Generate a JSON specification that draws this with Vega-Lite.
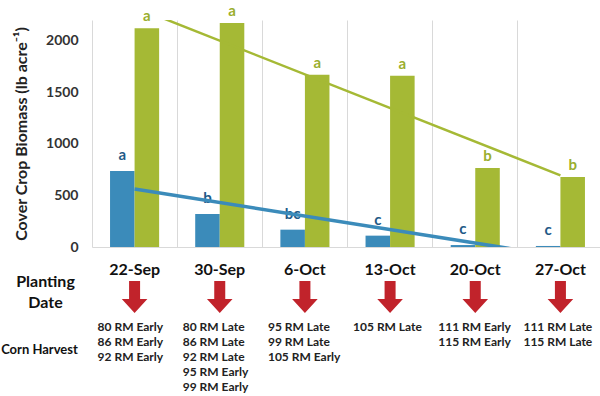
{
  "$schema": "https://vega.github.io/schema/vega-lite/v6.json",
  "background": "white",
  "padding": {"top": 3, "left": 0, "right": 0, "bottom": 0},
  "config": {"font": "Lato", "view": {"stroke": null}},
  "spacing": 8,
  "datasets": {
    "biomass": [
      {"date": "22-Sep", "series": "Series 1", "biomass": 737, "letter": "a"},
      {"date": "22-Sep", "series": "Series 2", "biomass": 2120, "letter": "a"},
      {"date": "30-Sep", "series": "Series 1", "biomass": 320, "letter": "b"},
      {"date": "30-Sep", "series": "Series 2", "biomass": 2171, "letter": "a"},
      {"date": "6-Oct", "series": "Series 1", "biomass": 168, "letter": "bc"},
      {"date": "6-Oct", "series": "Series 2", "biomass": 1670, "letter": "a"},
      {"date": "13-Oct", "series": "Series 1", "biomass": 110, "letter": "c"},
      {"date": "13-Oct", "series": "Series 2", "biomass": 1660, "letter": "a"},
      {"date": "20-Oct", "series": "Series 1", "biomass": 19, "letter": "c"},
      {"date": "20-Oct", "series": "Series 2", "biomass": 766, "letter": "b"},
      {"date": "27-Oct", "series": "Series 1", "biomass": 10, "letter": "c"},
      {"date": "27-Oct", "series": "Series 2", "biomass": 679, "letter": "b"}
    ],
    "trend": [
      {"date": "22-Sep", "series": "Series 1", "trend": 562},
      {"date": "27-Oct", "series": "Series 1", "trend": -93},
      {"date": "22-Sep", "series": "Series 2", "trend": 2326},
      {"date": "27-Oct", "series": "Series 2", "trend": 694}
    ],
    "schedule": [
      {"date": "22-Sep", "harvest": "80 RM Early\n86 RM  Early\n92 RM  Early"},
      {"date": "30-Sep", "harvest": "80 RM Late\n86 RM  Late\n92 RM  Late\n95 RM  Early\n99 RM  Early"},
      {"date": "6-Oct", "harvest": "95 RM Late\n99 RM  Late\n105 RM  Early"},
      {"date": "13-Oct", "harvest": "105 RM  Late"},
      {"date": "20-Oct", "harvest": "111 RM Early\n115 RM Early"},
      {"date": "27-Oct", "harvest": "111 RM Late\n115 RM Late"}
    ]
  },
  "vconcat": [
    {
      "width": 511,
      "height": 227,
      "layer": [
        {
          "data": {"name": "biomass"},
          "mark": {"type": "bar"},
          "encoding": {
            "x": {
              "field": "date", "type": "nominal",
              "scale": {"domain": ["22-Sep", "30-Sep", "6-Oct", "13-Oct", "20-Oct", "27-Oct"], "paddingInner": 0, "paddingOuter": 0},
              "axis": {"labels": false, "ticks": false, "title": null, "domainColor": "#d9d9d9", "grid": true, "gridColor": "#d9d9d9", "bandPosition": 0}
            },
            "xOffset": {"field": "series", "type": "nominal", "scale": {"paddingOuter": 0.735, "paddingInner": 0}},
            "y": {
              "field": "biomass", "type": "quantitative",
              "scale": {"domain": [0, 2200]},
              "axis": {
                "values": [0, 500, 1000, 1500, 2000], "format": "d", "grid": false, "domain": false, "ticks": false,
                "labelPadding": 14, "labelFontSize": 14, "labelFontWeight": "bold", "labelColor": "#333333",
                "title": "Cover Crop Biomass (lb acre⁻¹)", "titleFontSize": 16, "titleFontWeight": "bold",
                "titleColor": "#222222", "titlePadding": 16
              }
            },
            "color": {"field": "series", "type": "nominal", "scale": {"range": ["#3b8bba", "#a5b935"]}, "legend": null}
          }
        },
        {
          "data": {"name": "biomass"},
          "transform": [{"filter": "datum.series === 'Series 1'"}],
          "mark": {"type": "text", "baseline": "middle", "dy": -16, "fontSize": 15, "fontWeight": "bold", "color": "#1f5a87"},
          "encoding": {
            "x": {"field": "date", "type": "nominal"},
            "xOffset": {"field": "series", "type": "nominal"},
            "y": {"field": "biomass", "type": "quantitative"},
            "text": {"field": "letter"}
          }
        },
        {
          "data": {"name": "biomass"},
          "transform": [{"filter": "datum.series === 'Series 2'"}],
          "mark": {"type": "text", "baseline": "middle", "dy": -12, "fontSize": 15, "fontWeight": "bold", "color": "#9aae2e"},
          "encoding": {
            "x": {"field": "date", "type": "nominal"},
            "xOffset": {"field": "series", "type": "nominal"},
            "y": {"field": "biomass", "type": "quantitative"},
            "text": {"field": "letter"}
          }
        },
        {
          "data": {"name": "trend"},
          "mark": {"type": "line", "clip": true},
          "encoding": {
            "x": {"field": "date", "type": "nominal"},
            "y": {"field": "trend", "type": "quantitative"},
            "color": {"field": "series", "type": "nominal"},
            "strokeWidth": {"field": "series", "type": "ordinal", "scale": {"range": [3.5, 2.5]}, "legend": null}
          }
        }
      ]
    },
    {
      "width": 511,
      "height": 68,
      "data": {"name": "schedule"},
      "layer": [
        {
          "mark": {"type": "text", "fontSize": 16, "fontWeight": "bold", "color": "#111111", "dy": -11},
          "encoding": {
            "x": {
              "field": "date", "type": "nominal",
              "scale": {"type": "band", "domain": ["22-Sep", "30-Sep", "6-Oct", "13-Oct", "20-Oct", "27-Oct"], "paddingInner": 0, "paddingOuter": 0},
              "axis": null
            },
            "y": {
              "datum": "Planting Date", "type": "nominal",
              "scale": {"type": "point", "domain": ["Planting Date", "Corn Harvest"], "padding": 0},
              "axis": {
                "title": null, "domain": false, "ticks": false, "grid": false,
                "labelAlign": "center", "labelBaseline": "middle",
                "labelPadding": {"condition": {"test": "datum.value === 'Corn Harvest'", "value": 53}, "value": 47},
                "labelFontSize": {"condition": {"test": "datum.value === 'Corn Harvest'", "value": 13}, "value": 16},
                "labelFontWeight": "bold", "labelColor": "#111111", "labelLineHeight": 21.7,
                "labelExpr": "datum.value === 'Planting Date' ? ['Planting', 'Date'] : datum.label"
              }
            },
            "text": {"field": "date"}
          }
        },
        {
          "mark": {
            "type": "point", "filled": true, "opacity": 1, "color": "#c1232b", "size": 1024, "strokeWidth": 0,
            "shape": "M-0.344,0L0.344,0L0.344,1.125L0.8,1.125L0,2L-0.8,1.125L-0.344,1.125Z"
          },
          "encoding": {
            "x": {"field": "date", "type": "nominal"},
            "y": {"datum": "Planting Date", "type": "nominal"}
          }
        },
        {
          "mark": {
            "type": "text", "lineBreak": "\n", "align": "left", "baseline": "top", "dx": -37, "dy": -27.5,
            "fontSize": 12, "fontWeight": "bold", "lineHeight": 15, "color": "#222222"
          },
          "encoding": {
            "x": {"field": "date", "type": "nominal"},
            "y": {"datum": "Corn Harvest", "type": "nominal"},
            "text": {"field": "harvest"}
          }
        }
      ]
    }
  ]
}
